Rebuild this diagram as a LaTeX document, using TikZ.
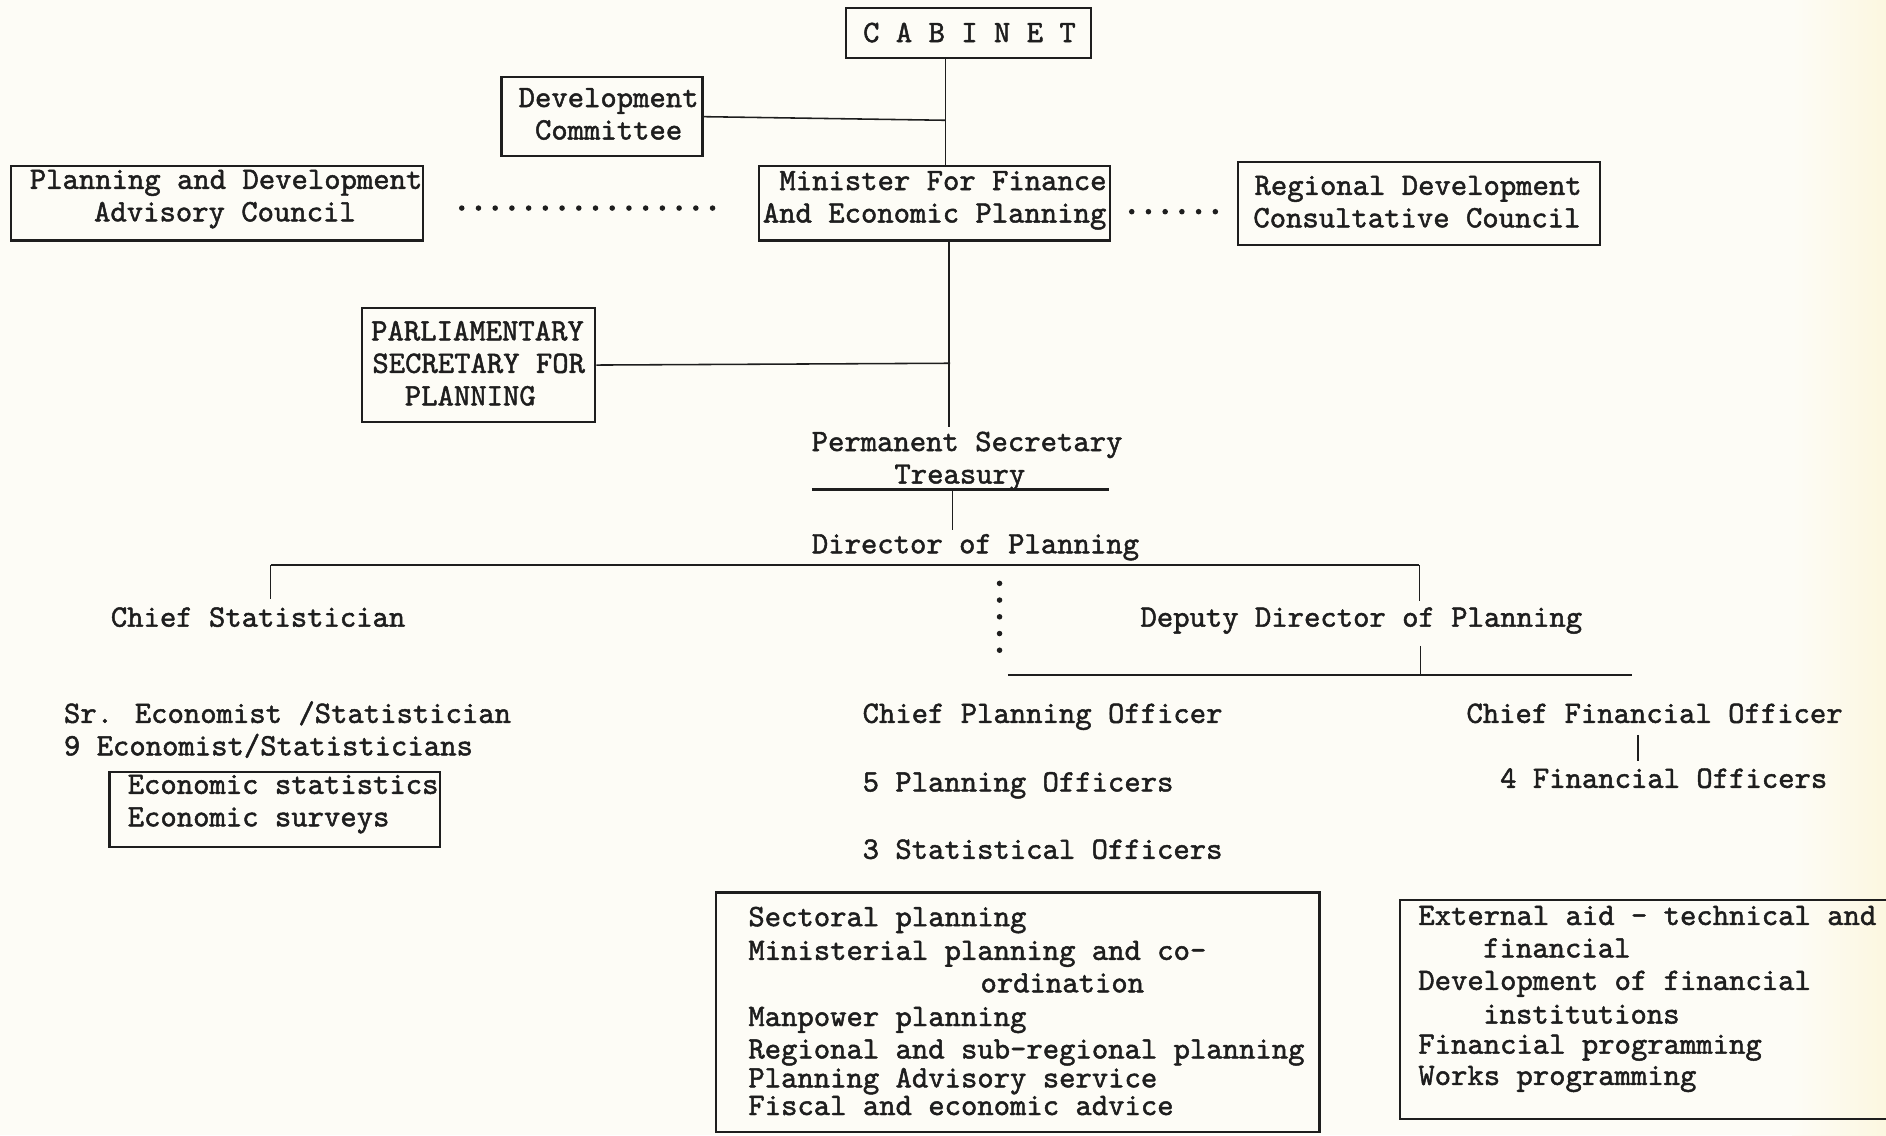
\documentclass[tikz,border=0pt]{standalone}
\usepackage{fontspec}
\newfontfamily\tw{lmmono10-regular.otf}[FakeBold=1.5]
\definecolor{ink}{HTML}{1E1E1E}
\definecolor{paper}{HTML}{FDFCF6}
\definecolor{paperyel}{HTML}{FCF7E0}
\begin{document}
\begin{tikzpicture}[x=1pt,y=-1pt,
  txt/.style={inner sep=0pt, font=\tw\fontsize{25.9}{27}\selectfont, text=ink},
  lt/.style={txt, anchor=base west},
  ct/.style={txt, anchor=base},
  box/.style={draw=ink, line width=1.8pt, inner sep=0pt},
  conn/.style={draw=ink, line width=1.3pt},
  dotline/.style={draw=ink, line width=4.6pt, line cap=round, dash pattern=on 0pt off 13.9pt}]

\useasboundingbox (0,0) rectangle (1568,944);
\fill[paper] (0,0) rectangle (1568,944);
\shade[left color=paper, right color=paperyel] (1490,0) rectangle (1568,944);

% ---- boxes ----
\node[box, minimum width=204pt, minimum height=41pt] (cabbox) at (805,27.5) {};
\node[box, minimum width=167pt, minimum height=66pt] (devbox) at (500.5,97) {};
\node[box, minimum width=343pt, minimum height=62pt] (padbox) at (180.5,169) {};
\node[box, minimum width=292pt, minimum height=62pt] (minbox) at (777,169) {};
\node[box, minimum width=301pt, minimum height=69pt] (rdbox) at (1179.5,169.5) {};
\node[box, minimum width=194pt, minimum height=95pt] (parbox) at (398,303.5) {};
\node[box, minimum width=275pt, minimum height=62pt] (ecobox) at (228.5,673) {};
\node[box, minimum width=502pt, minimum height=199pt] (planbox) at (846,841.5) {};
\node[box, minimum width=460pt, minimum height=182pt] (finbox) at (1394,839) {};

% ---- texts ----
\node[ct] (cabinet) at (806,35) {C A B I N E T};
\node[ct] (dev1) at (506,89) {Development};
\node[ct] (dev2) at (506,116) {Committee};
\node[ct] (pad1) at (188,157) {Planning and Development};
\node[ct] (pad2) at (187,184) {Advisory Council};
\node[ct] (min1) at (784,158) {Minister For Finance};
\node[ct] (min2) at (777,185) {And Economic Planning};
\node[ct] (rd1) at (1179,162) {Regional Development};
\node[ct] (rd2) at (1178,189) {Consultative Council};
\node[ct] (par1) at (397,283) {PARLIAMENTARY};
\node[ct] (par2) at (398,310) {SECRETARY FOR};
\node[ct] (par3) at (391,337) {PLANNING};
\node[ct] (perm) at (804,375) {Permanent Secretary};
\node[ct] (treas) at (798,402) {Treasury};
\node[ct] (dir) at (811,460) {Director of Planning};
\node[lt] (chstat) at (92,521) {Chief Statistician};
\node[lt] (deputy) at (948,521) {Deputy Director of Planning};
\node[lt] (srecon) at (53,601) {Sr. Economist /Statistician};
\node[lt] (nineecon) at (53,628) {9 Economist/Statisticians};
\node[lt] (eco1) at (106,660) {Economic statistics};
\node[lt] (eco2) at (106,687) {Economic surveys};
\node[lt] (cpo) at (717,601) {Chief Planning Officer};
\node[lt] (fivepo) at (717,658) {5 Planning Officers};
\node[lt] (threeso) at (717,714) {3 Statistical Officers};
\node[lt] (cfo) at (1219,601) {Chief Financial Officer};
\node[lt] (fourfo) at (1247,655) {4 Financial Officers};

\node[lt] (pl1) at (622,770) {Sectoral planning};
\node[lt] (pl2) at (622,798) {Ministerial planning and co-};
\node[lt] (pl3) at (815,825) {ordination};
\node[lt] (pl4) at (622,853) {Manpower planning};
\node[lt] (pl5) at (622,880) {Regional and sub-regional planning};
\node[lt] (pl6) at (622,904) {Planning Advisory service};
\node[lt] (pl7) at (622,927) {Fiscal and economic advice};

\node[lt] (fi1) at (1179,769) {External aid - technical and};
\node[lt] (fi2) at (1233,796) {financial};
\node[lt] (fi3) at (1179,823) {Development of financial};
\node[lt] (fi4) at (1233,851) {institutions};
\node[lt] (fi5) at (1179,876) {Financial programming};
\node[lt] (fi6) at (1179,902) {Works programming};

% ---- named points ----
\coordinate (spineA) at (786,100);
\coordinate (spineB) at (790,302);
\coordinate (permTop) at (789,355);
\coordinate (ulL) at (675,407);
\coordinate (ulR) at (922,407);
\coordinate (ulJ) at (792,407);
\coordinate (dirTop) at (792,441);
\coordinate (busL) at (225,470);
\coordinate (busR) at (1180,470);
\coordinate (chsTop) at (225,498);
\coordinate (depTop) at (1180,500);
\coordinate (depBot) at (1181,537);
\coordinate (dotTop) at (831,485);
\coordinate (dotBot) at (831,553);
\coordinate (depL) at (838,561);
\coordinate (depR) at (1357,561);
\coordinate (depJ) at (1181,561);
\coordinate (cfoBot) at (1362,611);
\coordinate (ffoTop) at (1362,633);

% ---- connectors ----
\draw[conn] ([xshift=-19pt]cabbox.south) -- ([xshift=9pt]minbox.north);
\draw[conn] (devbox.east) -- (spineA);
\draw[conn] ([xshift=12pt]minbox.south) -- (permTop);
\draw[conn] (parbox.east) -- (spineB);
\draw[conn, line width=1.8pt] (ulL) -- (ulR);
\draw[conn] (ulJ) -- (dirTop);
\draw[conn, line width=1.8pt] (busL) -- (busR);
\draw[conn] (busL) -- (chsTop);
\draw[conn] (busR) -- (depTop);
\draw[dotline] (dotTop) -- (dotBot);
\draw[conn, line width=1.8pt] (depL) -- (depR);
\draw[conn] (depBot) -- (depJ);
\draw[conn] (cfoBot) -- (ffoTop);
\draw[dotline] ([xshift=31pt]padbox.east |- 0,173) -- ([xshift=-26pt]minbox.west |- 0,173);
\draw[dotline] ([xshift=17pt]minbox.east |- 0,176) -- ([xshift=-17pt]rdbox.west |- 0,176);
\end{tikzpicture}
\end{document}
